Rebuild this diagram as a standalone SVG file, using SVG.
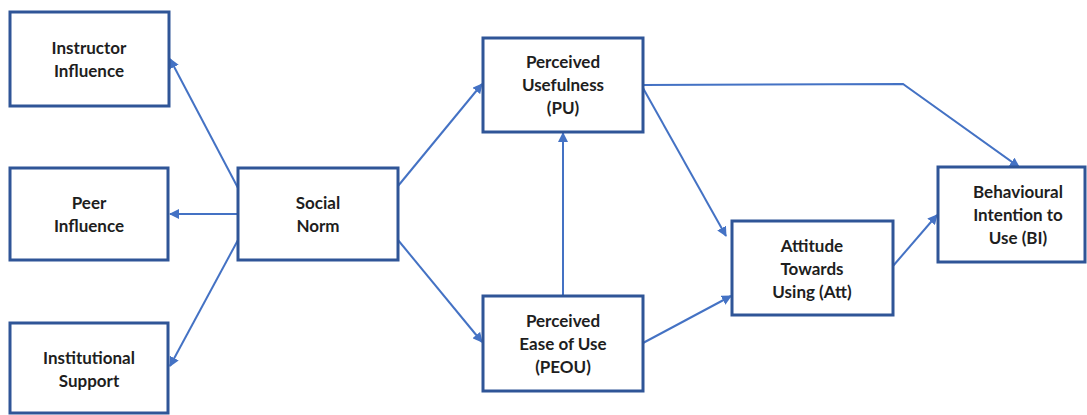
<svg xmlns="http://www.w3.org/2000/svg" width="1087" height="415" viewBox="0 0 1087 415">
  <style>
    .box { fill: #ffffff; stroke: #2f5597; stroke-width: 3; }
    .lbl { font-family: Lato, "Open Sans", "Liberation Sans", sans-serif; font-weight: bold; font-size: 17px; fill: #1e1e1e; text-anchor: middle; }
    .edge { fill: none; stroke: #4472c4; stroke-width: 2; marker-end: url(#arrow); }
  </style>
  <defs>
    <marker id="arrow" viewBox="0 0 10 10" refX="9" refY="5" markerWidth="5" markerHeight="5" orient="auto" markerUnits="strokeWidth">
      <path d="M0,0 L10,5 L0,10 z" fill="#4472c4"/>
    </marker>
  </defs>
  <rect width="1087" height="415" fill="#ffffff"/>

  <g id="connectors">
    <line class="edge" x1="238" y1="188" x2="170" y2="59"/>
    <line class="edge" x1="238" y1="214" x2="170" y2="214"/>
    <line class="edge" x1="238" y1="240" x2="170" y2="366"/>
    <line class="edge" x1="398" y1="186" x2="482" y2="84"/>
    <line class="edge" x1="398" y1="240" x2="482" y2="342"/>
    <line class="edge" x1="563" y1="296" x2="563" y2="133"/>
    <polyline class="edge" points="643,85 903,84 1019,167"/>
    <line class="edge" x1="643" y1="88" x2="726" y2="236"/>
    <line class="edge" x1="643" y1="343" x2="731" y2="296"/>
    <line class="edge" x1="893" y1="266" x2="937" y2="215"/>
  </g>

  <g id="instructor">
    <rect class="box" x="10" y="12" width="159" height="94"/>
    <text class="lbl" x="89" y="54">Instructor</text>
    <text class="lbl" x="89" y="77">Influence</text>
  </g>
  <g id="peer">
    <rect class="box" x="10" y="168" width="158" height="92"/>
    <text class="lbl" x="89" y="209">Peer</text>
    <text class="lbl" x="89" y="232">Influence</text>
  </g>
  <g id="institutional">
    <rect class="box" x="10" y="323" width="158" height="90"/>
    <text class="lbl" x="89" y="364">Institutional</text>
    <text class="lbl" x="89" y="387">Support</text>
  </g>
  <g id="social-norm">
    <rect class="box" x="238" y="168" width="160" height="92"/>
    <text class="lbl" x="318" y="209">Social</text>
    <text class="lbl" x="318" y="232">Norm</text>
  </g>
  <g id="pu">
    <rect class="box" x="483" y="38" width="160" height="94"/>
    <text class="lbl" x="563" y="68">Perceived</text>
    <text class="lbl" x="563" y="91">Usefulness</text>
    <text class="lbl" x="563" y="114">(PU)</text>
  </g>
  <g id="peou">
    <rect class="box" x="483" y="296" width="160" height="95"/>
    <text class="lbl" x="563" y="327">Perceived</text>
    <text class="lbl" x="563" y="350">Ease of Use</text>
    <text class="lbl" x="563" y="373">(PEOU)</text>
  </g>
  <g id="att">
    <rect class="box" x="732" y="221" width="161" height="94"/>
    <text class="lbl" x="812" y="252">Attitude</text>
    <text class="lbl" x="812" y="275">Towards</text>
    <text class="lbl" x="812" y="298">Using (Att)</text>
  </g>
  <g id="bi">
    <rect class="box" x="938" y="167" width="147" height="95"/>
    <text class="lbl" x="1018" y="198">Behavioural</text>
    <text class="lbl" x="1018" y="221">Intention to</text>
    <text class="lbl" x="1018" y="244">Use (BI)</text>
  </g>
</svg>
